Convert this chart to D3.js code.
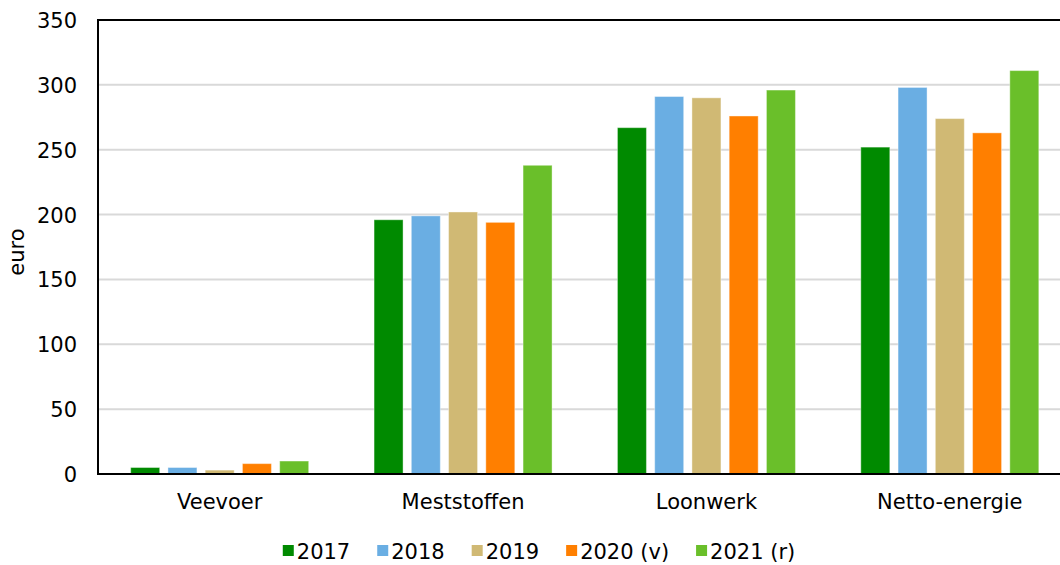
<!DOCTYPE html>
<html><head><meta charset="utf-8">
<script src="https://cdn.jsdelivr.net/npm/d3@7"></script>
<style>body{margin:0;background:#fff;overflow:hidden}text{font-family:Verdana,"DejaVu Sans",sans-serif;fill:#000}</style>
</head><body><svg id="c" width="1060" height="565"></svg>
<script>
const categories = ["Veevoer","Meststoffen","Loonwerk","Netto-energie"];
const seriesNames = ["2017","2018","2019","2020 (v)","2021 (r)"];
const v2017 = [5, 196, 267, 252];
const v2018 = [5, 199, 291, 298];
const v2019 = [3, 202, 290, 274];
const v2020 = [8, 194, 276, 263];
const v2021 = [10, 238, 296, 311];
const yTicks = [0,50,100,150,200,250,300,350];
const colors = ["#008a00","#6aaee3","#d0b974","#ff7f00","#6abf2a"];
const series = [v2017,v2018,v2019,v2020,v2021];
const FS = "21px";

const svg = d3.select("#c");
const m = {l:98, t:20, b:474, r:1071.5};
const GW = 178;
const x = d3.scaleBand().domain(categories).range([m.l,m.r]).paddingInner(0).paddingOuter(0);
const x1 = d3.scaleBand().domain(seriesNames).range([0,GW]).paddingInner(0.2215).paddingOuter(0);
const y = d3.scaleLinear().domain([0,350]).range([m.b,m.t]);

// gridlines
svg.append("g").selectAll("line").data(yTicks.filter(d=>d>0&&d<350)).join("line")
  .attr("x1",m.l).attr("x2",1060).attr("y1",d=>y(d)).attr("y2",d=>y(d))
  .attr("stroke","#d9d9d9").attr("stroke-width",2);

// bars
const g = svg.append("g");
categories.forEach((c,i)=>{
  const off = x(c) + (x.bandwidth()-GW)/2;
  series.forEach((s,j)=>{
    g.append("rect").attr("x",off+x1(seriesNames[j])).attr("width",x1.bandwidth())
      .attr("y",y(s[i])).attr("height",y(0)-y(s[i]))
      .attr("fill",colors[j]).attr("stroke","rgba(255,255,255,0.4)").attr("stroke-width",1);
  });
});

// axes lines
svg.append("line").attr("x1",m.l).attr("x2",1060).attr("y1",m.t).attr("y2",m.t).attr("stroke","#000").attr("stroke-width",2);
svg.append("line").attr("x1",m.l).attr("x2",m.l).attr("y1",m.t-1).attr("y2",m.b+1).attr("stroke","#000").attr("stroke-width",2);
svg.append("line").attr("x1",m.l-1).attr("x2",1060).attr("y1",m.b).attr("y2",m.b).attr("stroke","#000").attr("stroke-width",2);

// y tick labels
const yAxis = d3.axisLeft(y).tickValues(yTicks).tickSize(0).tickPadding(21);
const ya = svg.append("g").attr("transform",`translate(${m.l},0)`).call(yAxis);
ya.select(".domain").remove();
ya.attr("font-size",null).attr("font-family",null);
ya.selectAll("text").style("font-size",FS).attr("fill","#000").attr("dy","0.36em");

// x labels
const xAxis = d3.axisBottom(x).tickSize(0).tickPadding(20);
const xa = svg.append("g").attr("transform",`translate(0,${m.b})`).call(xAxis);
xa.select(".domain").remove();
xa.attr("font-size",null).attr("font-family",null);
xa.selectAll("text").style("font-size",FS).attr("fill","#000");

// y label
svg.append("text").attr("transform","translate(24,252) rotate(-90)").attr("text-anchor","middle")
  .style("font-size",FS).text("euro");

// legend
const lg = svg.append("g");
let lx = 0;
const items = [];
seriesNames.forEach((n,j)=>{
  const it = lg.append("g");
  it.append("rect").attr("x",0).attr("y",-6).attr("width",11).attr("height",11).attr("fill",colors[j]);
  const t = it.append("text").attr("x",14).attr("y",0).attr("dy","0.36em").style("font-size",FS).text(n);
  const w = 14 + t.node().getComputedTextLength();
  items.push({it,w});
});
const gap = 27;
const total = items.reduce((a,b)=>a+b.w,0)+gap*(items.length-1);
lx = 539 - total/2;
items.forEach(o=>{o.it.attr("transform",`translate(${lx},551)`); lx += o.w+gap;});
</script></body></html>
